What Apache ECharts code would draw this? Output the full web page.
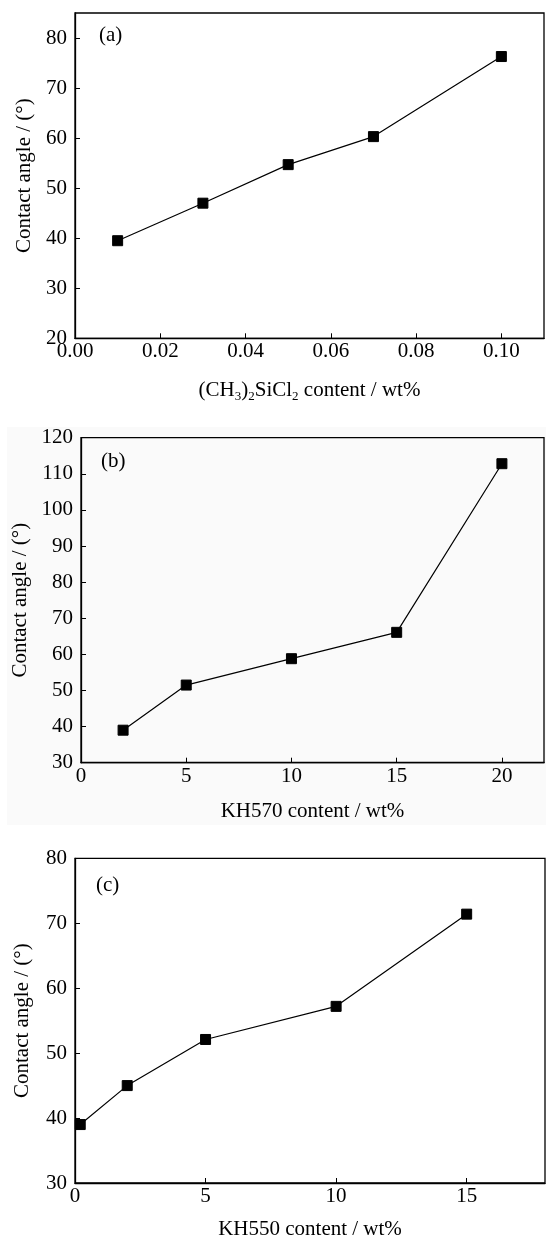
<!DOCTYPE html>
<html>
<head>
<meta charset="utf-8">
<script src="https://cdn.jsdelivr.net/npm/echarts@6/dist/echarts.min.js"></script>
<style>
html,body{margin:0;padding:0;background:#fff;}
#main{width:546px;height:1241px;}
</style>
</head>
<body>
<div id="main"></div>
<script>
// Panel (a): (CH3)2SiCl2 content
var xA = [0.01, 0.03, 0.05, 0.07, 0.10];
var yA = [39.5, 47.0, 54.7, 60.3, 76.3];
// Panel (b): KH570 content
var xB = [2, 5, 10, 15, 20];
var yB = [39.0, 51.5, 58.8, 66.1, 112.8];
// Panel (c): KH550 content
var xC = [0.2, 2, 5, 10, 15];
var yC = [39.0, 45.0, 52.1, 57.2, 71.4];

var panelLabels = ['(a)', '(b)', '(c)'];
var yName = 'Contact angle / (°)';
var xNames = ['(CH{sub|3}){sub|2}SiCl{sub|2} content / wt%', 'KH570 content / wt%', 'KH550 content / wt%'];

function pairs(xs, ys) { return xs.map(function (x, i) { return [x, ys[i]]; }); }

var FONT = 'Liberation Serif';
var grids = [
  {left: 75, right: 2, top: 13, height: 325.3},
  {left: 81, right: 2, top: 437.7, height: 325},
  {left: 75, right: 1, top: 858.3, height: 326}
];
var xRanges = [
  {min: 0, max: 0.11, interval: 0.02, dec: 2, gap: 40},
  {min: 0, max: 22, interval: 5, dec: 0, gap: 38},
  {min: 0, max: 18, interval: 5, dec: 0, gap: 36}
];
var yRanges = [
  {min: 20, max: 85, interval: 10, gap: 39, showMax: false},
  {min: 30, max: 120, interval: 10, gap: 50, showMax: true},
  {min: 30, max: 80, interval: 10, gap: 42, showMax: true}
];

function axisCommon() {
  return {
    axisLine: {show: true, lineStyle: {color: '#000', width: 1.3}},
    axisTick: {show: true, inside: true, length: 5, lineStyle: {color: '#000', width: 1}},
    splitLine: {show: false}
  };
}

var xAxes = [], yAxes = [], series = [], gridOpts = [];
for (var i = 0; i < 3; i++) {
  var g = grids[i];
  gridOpts.push({left: g.left, right: g.right, top: g.top, height: g.height,
    show: true, borderColor: '#000', borderWidth: 1.3, backgroundColor: 'transparent'});
  var xr = xRanges[i], yr = yRanges[i];
  var xa = axisCommon();
  Object.assign(xa, {
    type: 'value', gridIndex: i, min: xr.min, max: xr.max, interval: xr.interval,
    name: xNames[i], nameLocation: 'middle', nameGap: xr.gap,
    nameTextStyle: {fontFamily: FONT, fontSize: 21, color: '#000',
      rich: {sub: {fontFamily: FONT, fontSize: 13, color: '#000', padding: [12, 0, 0, 0]}}},
    axisLabel: {show: true, fontFamily: FONT, fontSize: 21, color: '#000', margin: 3, showMaxLabel: false,
      formatter: (function (d) { return function (v) { return v.toFixed(d); }; })(xr.dec)}
  });
  xAxes.push(xa);
  var ya = axisCommon();
  Object.assign(ya, {
    type: 'value', gridIndex: i, min: yr.min, max: yr.max, interval: yr.interval,
    name: yName, nameLocation: 'middle', nameGap: yr.gap, nameRotate: 90,
    nameTextStyle: {fontFamily: FONT, fontSize: 21, color: '#000'},
    axisLabel: {show: true, fontFamily: FONT, fontSize: 21, color: '#000', margin: 8, showMaxLabel: yr.showMax}
  });
  yAxes.push(ya);
}
var datasets = [pairs(xA, yA), pairs(xB, yB), pairs(xC, yC)];
for (var j = 0; j < 3; j++) {
  series.push({
    type: 'line', xAxisIndex: j, yAxisIndex: j, data: datasets[j],
    symbol: 'rect', symbolSize: 10, showAllSymbol: true,
    lineStyle: {color: '#000', width: 1.2},
    itemStyle: {color: '#000', borderColor: '#000'},
    animation: false, z: 5
  });
}

var chart = echarts.init(document.getElementById('main'), null, {renderer: 'canvas'});
chart.setOption({
  backgroundColor: '#fff',
  animation: false,
  grid: gridOpts,
  xAxis: xAxes,
  yAxis: yAxes,
  series: series,
  graphic: [
    {type: 'rect', shape: {x: 7, y: 427, width: 539, height: 398}, style: {fill: '#fafafa'}, z: -10, silent: true},
    {type: 'text', left: 99, top: 25, style: {text: panelLabels[0], font: '21px "Liberation Serif"', fill: '#000'}, z: 10},
    {type: 'text', left: 101, top: 451, style: {text: panelLabels[1], font: '21px "Liberation Serif"', fill: '#000'}, z: 10},
    {type: 'text', left: 96, top: 875, style: {text: panelLabels[2], font: '21px "Liberation Serif"', fill: '#000'}, z: 10}
  ]
});
</script>
</body>
</html>
